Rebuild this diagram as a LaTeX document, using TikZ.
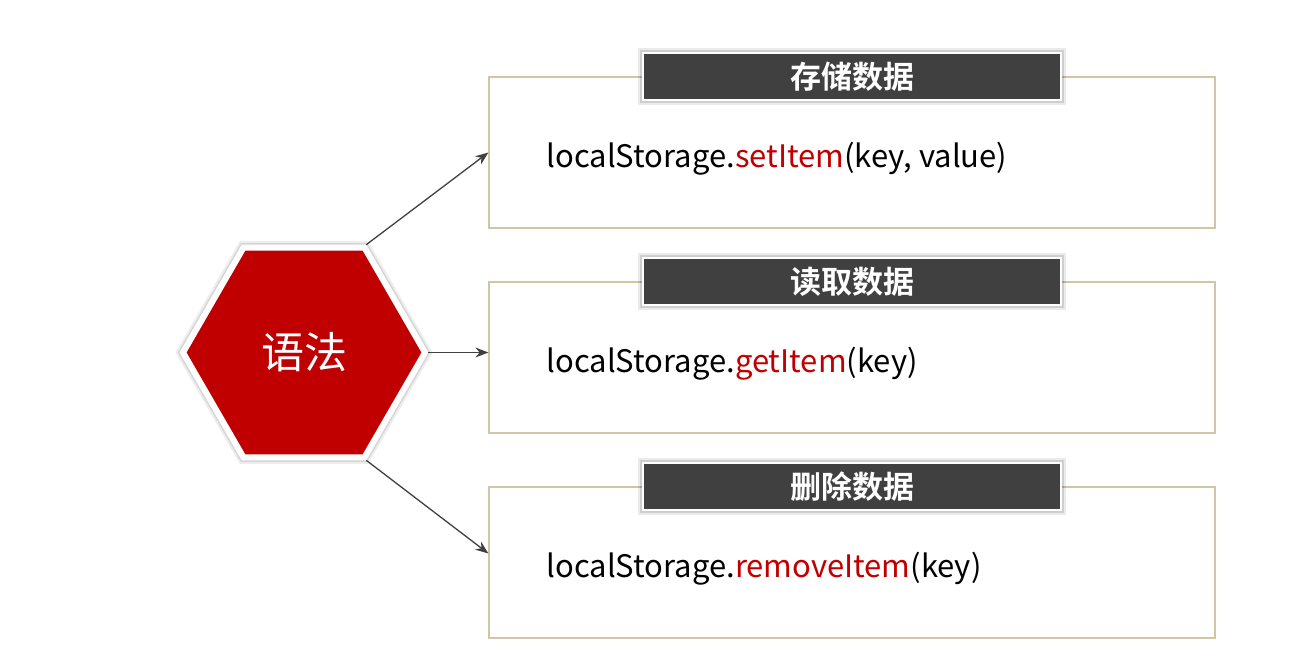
\documentclass[tikz,border=0pt]{standalone}
\usepackage{xcolor}
\usepackage{fontspec}
\setmainfont{Noto Sans CJK SC}
\newfontfamily\cjkbold{Noto Sans CJK SC Bold}
\usepackage{tikz}
\usetikzlibrary{shapes,arrows.meta,positioning,calc}
\definecolor{SynRed}{RGB}{192, 0, 0}
\definecolor{BarGray}{RGB}{64, 64, 64}
\definecolor{PaneTan}{RGB}{208, 198, 166}
\definecolor{ArrowGray}{RGB}{64, 64, 64}

\begin{document}
\begin{tikzpicture}[x=1pt, y=-1pt, node distance=10pt, auto]
  \tikzstyle{pane} = [rectangle, draw=PaneTan, fill=white, minimum width=726pt, minimum height=151pt, line width=1.2pt, inner sep=0pt]
  \tikzstyle{bar} = [rectangle, draw=white, fill=BarGray, minimum width=418pt, minimum height=47pt, line width=2.5pt, text=white, font=\cjkbold\fontsize{31}{36}\selectfont, preaction={draw=black, draw opacity=0.08, line width=10pt}, preaction={draw=black, draw opacity=0.12, line width=6pt}]
  \tikzstyle{code} = [anchor=west, inner sep=0pt, font=\fontsize{31}{36}\selectfont]
  \tikzstyle{hexa} = [regular polygon, regular polygon sides=6, minimum size=242pt, inner sep=0pt, fill=SynRed, draw=white, line width=6pt, text=white, font=\fontsize{43}{50}\selectfont, preaction={draw=black, draw opacity=0.07, line width=13pt}, preaction={draw=black, draw opacity=0.1, line width=9pt}]
  \tikzstyle{link} = [-{Stealth[length=13pt, width=10pt]}, draw=ArrowGray, line width=1.3pt]

  \useasboundingbox (0,0) rectangle (1307,657);

  % three panes with their title bars
  \node [pane] (p1) at (852,152.5) {};
  \node [pane] (p2) at (852,357.5) {};
  \node [pane] (p3) at (852,562.5) {};
  \node [bar] (t1) at (852,76.5) {存储数据};
  \node [bar] (t2) at (852,281.5) {读取数据};
  \node [bar] (t3) at (852,486.5) {删除数据};

  \node [code] (c1) at ($(p1.west)+(58,6)$) {localStorage.\textcolor{SynRed}{setItem}(key, value)};
  \node [code] (c2) at ($(p2.west)+(58,6)$) {localStorage.\textcolor{SynRed}{getItem}(key)};
  \node [code] (c3) at ($(p3.west)+(58,6)$) {localStorage.\textcolor{SynRed}{removeItem}(key)};

  % hexagon
  \node [hexa] (hex) at (304,352.5) {语法};

  \coordinate (a2) at (hex.0 -| p2.west);
  \coordinate (a3) at ($(p3.west)+(0,-9)$);
  \draw [link] (hex.60) -- (p1.west);
  \draw [link] (hex.0) -- (a2);
  \draw [link] (hex.-60) -- (a3);
\end{tikzpicture}
\end{document}
